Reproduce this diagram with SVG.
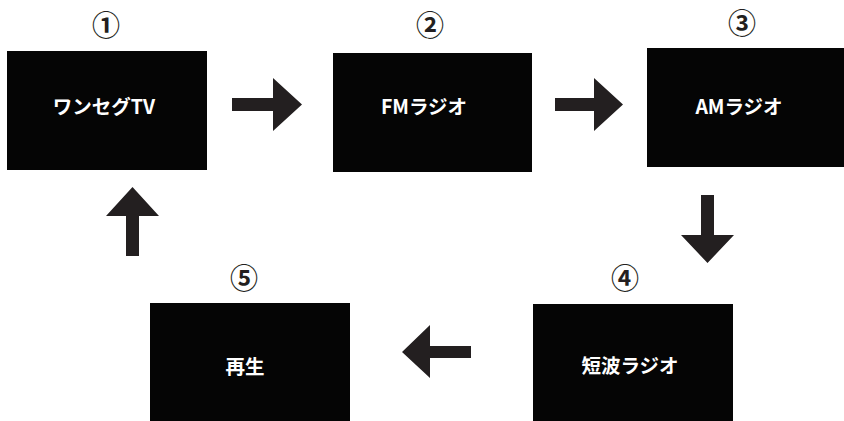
<svg xmlns="http://www.w3.org/2000/svg" width="844" height="421" viewBox="0 0 844 421">
<style>
.box{fill:#050505}
.lbl{fill:#ffffff;font-family:"Noto Sans CJK JP","Noto Sans",sans-serif;font-size:19.5px;font-weight:bold;text-anchor:middle;dominant-baseline:central}
.num{fill:#231f20;font-family:"Noto Sans CJK JP","DejaVu Sans",sans-serif;font-size:28px;font-weight:bold;text-anchor:middle;dominant-baseline:central}
.arr{fill:#231f20}
</style>
<rect width="844" height="421" fill="#ffffff"/>
<g id="node1">
<text class="num" x="106" y="24">①</text>
<rect class="box" x="7" y="51" width="200" height="119"/>
<text class="lbl" x="104" y="105">ワンセグTV</text>
</g>
<g id="node2">
<text class="num" x="430" y="24">②</text>
<rect class="box" x="333" y="53" width="199" height="119"/>
<text class="lbl" x="424" y="105">FMラジオ</text>
</g>
<g id="node3">
<text class="num" x="742" y="22">③</text>
<rect class="box" x="647" y="48" width="197" height="119"/>
<text class="lbl" x="739" y="105">AMラジオ</text>
</g>
<g id="node4">
<text class="num" x="625" y="277">④</text>
<rect class="box" x="533" y="304" width="200" height="117"/>
<text class="lbl" x="630" y="364">短波ラジオ</text>
</g>
<g id="node5">
<text class="num" x="244" y="277">⑤</text>
<rect class="box" x="150" y="303" width="200" height="118"/>
<text class="lbl" x="245" y="365">再生</text>
</g>
<g id="connectors">
<polygon class="arr" points="232,98 273,98 273,78 302,104.5 273,131 273,111 232,111"/>
<polygon class="arr" points="555,98 594,98 594,78 623,104.5 594,131 594,111 555,111"/>
<polygon class="arr" points="701,195 714,195 714,235 734,235 707.5,263 681,235 701,235"/>
<polygon class="arr" points="471,346 471,358 430,358 430,378 402,352 430,325 430,346"/>
<polygon class="arr" points="126,256 126,216 106,216 132.5,187 159,216 139,216 139,256"/>
</g>
</svg>
